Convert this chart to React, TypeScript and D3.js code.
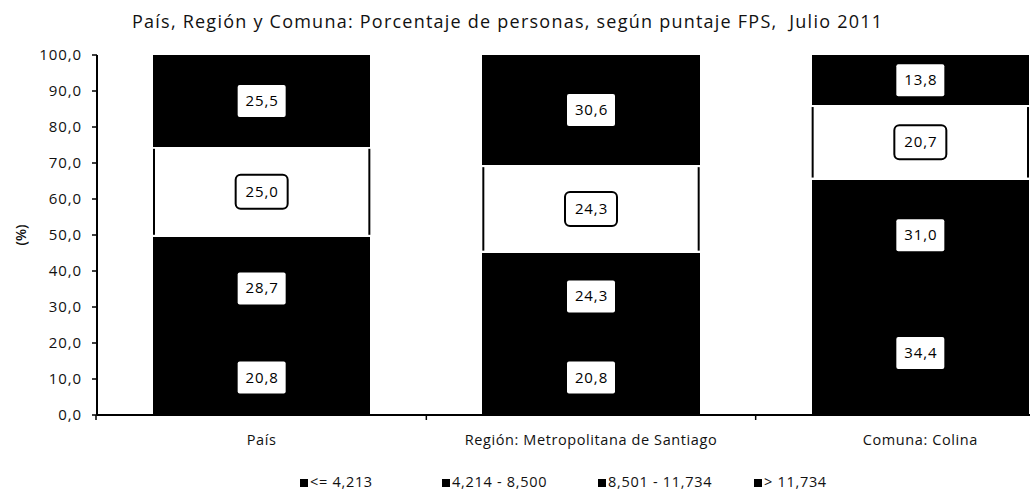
import * as d3 from 'd3';

// --- data ---
const categories = ['País', 'Región: Metropolitana de Santiago', 'Comuna: Colina'];
const seriesNames = ['<= 4,213', '4,214 - 8,500', '8,501 - 11,734', '> 11,734'];
const lowest = [20.8, 20.8, 34.4];
const lower = [28.7, 24.3, 31.0];
const upper = [25.0, 24.3, 20.7];
const highest = [25.5, 30.6, 13.8];
const yTicks = [0, 10, 20, 30, 40, 50, 60, 70, 80, 90, 100];
const segmentFill = ['#000', '#000', '#fff', '#000'];

const W = 1034;
const H = 491;
const FONT = '"Open Sans", "Noto Sans", sans-serif';

const fmt = (v: number) => d3.format('.1f')(v).replace('.', ',');

export default function App() {
  const rows = categories.map((c, i) => ({
    cat: c,
    s0: lowest[i],
    s1: lower[i],
    s2: upper[i],
    s3: highest[i],
  }));
  const keys = ['s0', 's1', 's2', 's3'];
  const stacked = d3.stack<any>().keys(keys)(rows);

  const left = 97;
  const bottom = 415;
  const x = d3.scaleBand().domain(categories).range([left, 1085]).paddingInner(0.34).paddingOuter(0.17);
  const y = d3.scaleLinear().domain([0, 100]).range([bottom, 55]);
  const bw = x.bandwidth();
  const step = x.step();

  const legendX = [300, 442, 598, 754];

  return (
    <svg width={W} height={H} style={{ position: 'absolute', left: 0, top: 0, background: '#fff' }} fontFamily={FONT}>
      <text x={132} y={28} fontSize={18} fill="#111" textLength={750} lengthAdjust="spacing" style={{ whiteSpace: 'pre' }}>
        País, Región y Comuna: Porcentaje de personas, según puntaje FPS,  Julio 2011
      </text>

      {/* bars */}
      {stacked.map((layer, si) => (
        <g key={si}>
          {layer.map((d, ci) => {
            const x0 = x(categories[ci])!;
            const y0 = y(d[1]);
            const h = y(d[0]) - y(d[1]);
            return (
              <g key={ci}>
                <rect x={x0} y={y0} width={bw} height={h} fill={segmentFill[si]} shapeRendering="crispEdges" />
                {segmentFill[si] === '#fff' && (
                  <>
                    <line x1={x0 + 1} x2={x0 + 1} y1={y0 + 2} y2={y0 + h - 2} stroke="#000" strokeWidth={2} />
                    <line x1={x0 + bw - 1} x2={x0 + bw - 1} y1={y0 + 2} y2={y0 + h - 2} stroke="#000" strokeWidth={2} />
                  </>
                )}
              </g>
            );
          })}
        </g>
      ))}

      {/* value labels */}
      {stacked.map((layer, si) => (
        <g key={'l' + si}>
          {layer.map((d, ci) => {
            const cx = x(categories[ci])! + bw / 2;
            const cy = (y(d[0]) + y(d[1])) / 2;
            const white = segmentFill[si] === '#fff';
            const bwid = white ? 52 : 48;
            const bh = white ? 34 : 32;
            return (
              <g key={ci}>
                <rect
                  x={cx - bwid / 2}
                  y={cy - bh / 2}
                  width={bwid}
                  height={bh}
                  rx={white ? 5 : 2}
                  fill="#fff"
                  stroke={white ? '#000' : 'none'}
                  strokeWidth={2}
                />
                <text x={cx + 0.5} y={cy + 5} textAnchor="middle" fontSize={15} letterSpacing={0.9} fill="#000">
                  {fmt(d[1] - d[0])}
                </text>
              </g>
            );
          })}
        </g>
      ))}

      {/* y axis */}
      <line x1={left} x2={left} y1={y(100)} y2={bottom} stroke="#000" strokeWidth={2} />
      {yTicks.map((t) => (
        <g key={t}>
          <line x1={left - 5} x2={left} y1={y(t)} y2={y(t)} stroke="#000" strokeWidth={1.5} />
          <text x={82} y={y(t) + 5} textAnchor="end" fontSize={15} letterSpacing={0.9} fill="#111">
            {fmt(t)}
          </text>
        </g>
      ))}
      <text transform={`translate(26,${(y(0) + y(100)) / 2}) rotate(-90)`} textAnchor="middle" fontSize={14} fontWeight={600} fill="#111">
        (%)
      </text>

      {/* x axis */}
      <line x1={left} x2={W - 4} y1={bottom} y2={bottom} stroke="#000" strokeWidth={2} />
      <line x1={left - 1} x2={left - 1} y1={bottom} y2={bottom + 5} stroke="#000" strokeWidth={1.5} />
      {categories.map((c, i) => {
        const bx = x(c)! - (step - bw) / 2;
        return <line key={'t' + i} x1={bx + step} x2={bx + step} y1={bottom} y2={bottom + 5} stroke="#000" strokeWidth={1.5} />;
      })}
      {categories.map((c) => (
        <text key={c} x={x(c)! + bw / 2} y={445} textAnchor="middle" fontSize={14.5} letterSpacing={0.6} fill="#111">
          {c}
        </text>
      ))}

      {/* legend */}
      {seriesNames.map((s, i) => (
        <g key={s}>
          <rect x={legendX[i]} y={479} width={8} height={8} fill="#000" />
          <text x={legendX[i] + 10} y={487} fontSize={14.5} letterSpacing={0.7} fill="#111">
            {s}
          </text>
        </g>
      ))}
    </svg>
  );
}
